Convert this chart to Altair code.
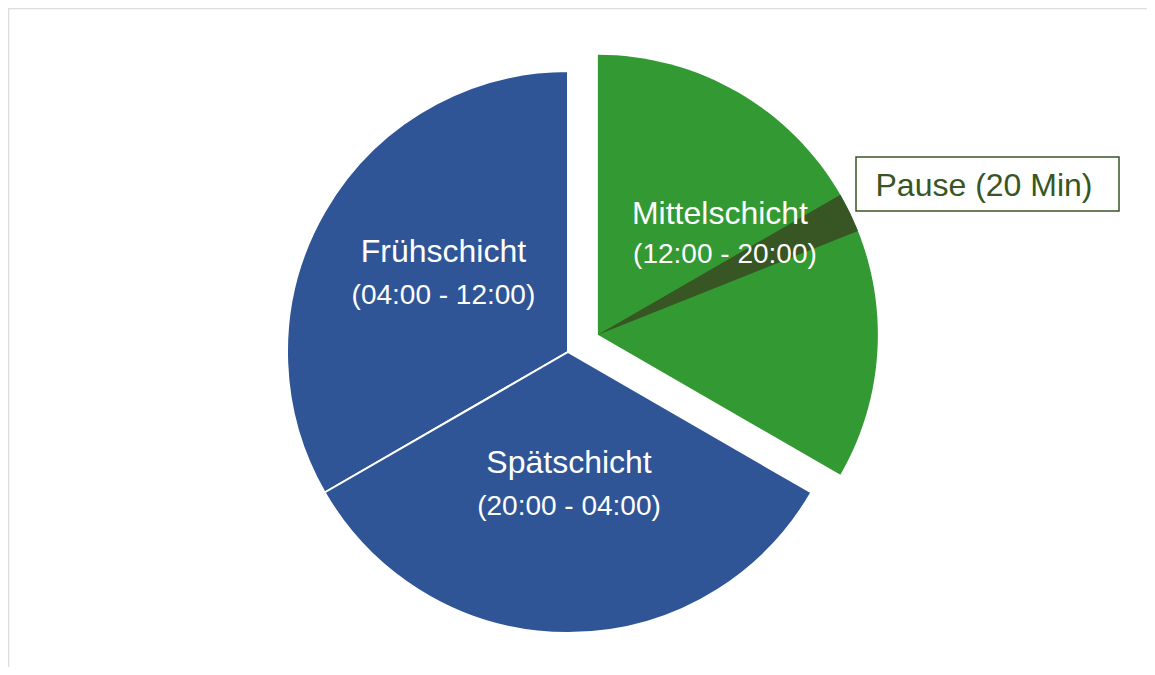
import math
import altair as alt
import pandas as pd

# ---------------- data ----------------
shift_names = ["Frühschicht", "Mittelschicht", "Spätschicht"]
shift_times = ["(04:00 - 12:00)", "(12:00 - 20:00)", "(20:00 - 04:00)"]
shift_start_h = [4, 12, 20]
shift_len_h = [8, 8, 8]
exploded_shift = "Mittelschicht"

pause_label = "Pause (20 Min)"
pause_start_h = 16.0
pause_len_h = 0.55          # width of the dark wedge as drawn

dial_top_h = 12             # 12:00 sits at the top of the dial

# ---------------- styling / layout ----------------
BLUE = "#2F5597"
GREEN = "#339933"
DARK = "#375623"
W, H = 1139, 659
CX, CY = 560, 344           # centre of the main pie (view coords)
R = 281
EXPLODE = 34.5
FONT = "Arial, Liberation Sans, sans-serif"
FS_NAME = 32
FS_TIME = 28

rows = []
for n, t, s, l in zip(shift_names, shift_times, shift_start_h, shift_len_h):
    a0 = (s - dial_top_h) % 24
    rows.append(dict(name=n, time=t, start=a0, end=a0 + l,
                     mid=a0 + l / 2, kind="shift"))
p0 = (pause_start_h - dial_top_h) % 24
rows.append(dict(name="Pause", time=pause_label, start=p0, end=p0 + pause_len_h,
                 mid=p0 + pause_len_h / 2, kind="pause"))
df = pd.DataFrame(rows)

# explode offset along the middle of the exploded slice
mid_ex = df.loc[df.name == exploded_shift, "mid"].iloc[0] / 24 * 2 * math.pi
EX = CX + EXPLODE * math.sin(mid_ex)
EY = CY - EXPLODE * math.cos(mid_ex)

theta_scale = alt.Scale(domain=[0, 24], range=[0, 2 * math.pi])
color = alt.Color("name:N", legend=None,
                  scale=alt.Scale(domain=shift_names + ["Pause"],
                                  range=[BLUE, GREEN, BLUE, DARK]))

base = alt.Chart(df)

def arcs(filter_expr, cx, cy, r, **kw):
    return base.transform_filter(filter_expr).mark_arc(
        x=cx, y=cy, outerRadius=r, **kw
    ).encode(
        theta=alt.Theta("start:Q", scale=theta_scale, stack=None),
        theta2="end:Q",
        color=color,
    )

main_arcs = arcs(f"datum.kind == 'shift' && datum.name != '{exploded_shift}'",
                 CX, CY, R, stroke="white", strokeWidth=2)
ex_arc = arcs(f"datum.name == '{exploded_shift}'", EX, EY, R - 1)
pause_arc = arcs("datum.kind == 'pause'", EX, EY, R - 1)

def label(name, field, size, cx, cy, radius, dx=0, dy=0):
    return base.transform_filter(f"datum.name == '{name}'").mark_text(
        x=cx, y=cy, radius=radius, dx=dx, dy=dy, font=FONT, fontSize=size,
        color="white", align="center", baseline="middle",
    ).encode(
        theta=alt.Theta("mid:Q", scale=theta_scale, stack=None),
        text=f"{field}:N",
    )

labels = [
    label("Frühschicht", "name", FS_NAME, CX, CY, 145, dx=1, dy=-27.5),
    label("Frühschicht", "time", FS_TIME, CX, CY, 145, dx=1, dy=16.5),
    label("Spätschicht", "name", FS_NAME, CX, CY, 133, dx=1, dy=-22),
    label("Spätschicht", "time", FS_TIME, CX, CY, 133, dx=1, dy=22),
    label("Mittelschicht", "name", FS_NAME, EX, EY, 145, dx=-3.5, dy=-48),
    label("Mittelschicht", "time", FS_TIME, EX, EY, 145, dx=1.5, dy=-7),
]

pause_df = df[df.kind == "pause"]
box = alt.Chart(pause_df).mark_rect(
    fill="white", stroke=DARK, strokeWidth=1.5
).encode(x=alt.value(848), x2=alt.value(1111), y=alt.value(149), y2=alt.value(203))
pause_txt = alt.Chart(pause_df).mark_text(
    font=FONT, fontSize=FS_NAME, color=DARK, align="center", baseline="middle"
).encode(x=alt.value(976), y=alt.value(178), text="time:N")

# frame lines along the top and left edge (the frame runs off the page)
frame_top = alt.Chart(pause_df).mark_rule(color="#dddddd", strokeWidth=1.5).encode(
    x=alt.value(0), x2=alt.value(W), y=alt.value(0.5))
frame_left = alt.Chart(pause_df).mark_rule(color="#dddddd", strokeWidth=1.5).encode(
    x=alt.value(0.5), y=alt.value(0), y2=alt.value(H))

chart = alt.layer(
    frame_top, frame_left, main_arcs, ex_arc, pause_arc, *labels, box, pause_txt
).properties(
    width=W, height=H, padding=0, autosize=alt.AutoSizeParams(type="none")
).configure_view(stroke=None)

chart.save("out.html", embed_options={"renderer": "svg", "actions": False})
